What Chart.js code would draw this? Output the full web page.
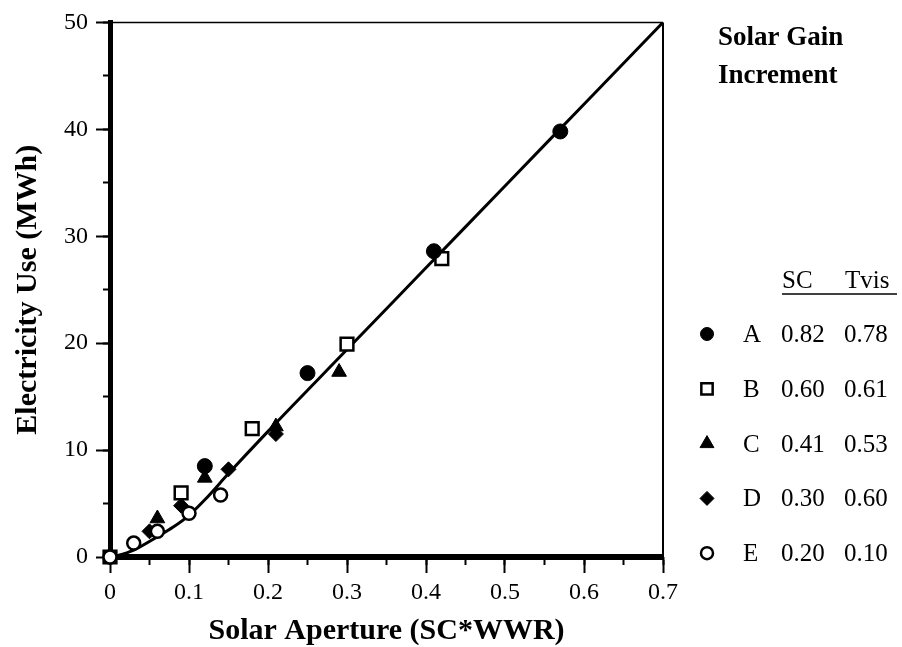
<!DOCTYPE html>
<html>
<head>
<meta charset="utf-8">
<script src="https://cdn.jsdelivr.net/npm/chart.js"></script>
<style>
  body { margin: 0; background: #fff; }
  #chart { display: block; }
</style>
</head>
<body>
<canvas id="chart" width="902" height="647"></canvas>
<script>
// key table (right side)
const keyTitle = ['Solar Gain', 'Increment'];
const keyHeader = ['SC', 'Tvis'];
const seriesNames = ['A', 'B', 'C', 'D', 'E'];
const scValues = ['0.82', '0.60', '0.41', '0.30', '0.20'];
const tvisValues = ['0.78', '0.61', '0.53', '0.60', '0.10'];

// measured points, solar aperture vs electricity use (MWh)
const apertureA = [0.12, 0.25, 0.41, 0.57];
const electricityA = [8.5, 17.2, 28.6, 39.8];
const apertureB = [0, 0.09, 0.18, 0.30, 0.42];
const electricityB = [0, 6.0, 12.0, 19.9, 27.9];
const apertureC = [0.06, 0.12, 0.21, 0.29];
const electricityC = [3.6, 7.4, 12.2, 17.3];
const apertureD = [0.05, 0.09, 0.15, 0.21];
const electricityD = [2.4, 4.8, 8.2, 11.5];
const apertureE = [0, 0.03, 0.06, 0.10, 0.14];
const electricityE = [0, 1.3, 2.4, 4.1, 5.8];

// fitted curve
const fitAperture = [0, 0.01, 0.03, 0.06, 0.08, 0.1, 0.12, 0.15, 0.2, 0.3, 0.4, 0.5, 0.6, 0.7];
const fitElectricity = [0, 0.15, 0.65, 1.9, 2.8, 3.9, 5.35, 7.8, 11.75, 19.4, 27.05, 34.7, 42.35, 50];

const xTickLabels = ['0', '0.1', '0.2', '0.3', '0.4', '0.5', '0.6', '0.7'];
const yTickLabels = ['0', '10', '20', '30', '40', '50'];

const SERIF = '"Liberation Serif", "Times New Roman", serif';

function pts(xs, ys) {
  return xs.map((x, i) => ({ x: x, y: ys[i] }));
}

const frame = {
  id: 'frame',
  beforeDatasetsDraw(chart) {
    const a = chart.chartArea;
    const ctx = chart.ctx;
    ctx.save();
    ctx.strokeStyle = '#000';
    ctx.lineWidth = 1.5;
    ctx.beginPath();
    ctx.moveTo(a.left, a.top);
    ctx.lineTo(a.right, a.top);
    ctx.stroke();
    ctx.lineWidth = 2;
    ctx.beginPath();
    ctx.moveTo(a.right, a.top);
    ctx.lineTo(a.right, a.bottom);
    ctx.stroke();
    ctx.restore();
  }
};

const keyTable = {
  id: 'keyTable',
  afterDraw(chart) {
    const ctx = chart.ctx;
    ctx.save();
    ctx.fillStyle = '#000';
    ctx.textAlign = 'left';
    ctx.textBaseline = 'alphabetic';
    ctx.font = 'bold 27px ' + SERIF;
    keyTitle.forEach((t, i) => ctx.fillText(t, 718, 45 + i * 38));

    ctx.font = '25px ' + SERIF;
    ctx.fillText(keyHeader[0], 782, 288);
    ctx.fillText(keyHeader[1], 845, 288);
    ctx.strokeStyle = '#000';
    ctx.lineWidth = 1.5;
    ctx.beginPath();
    ctx.moveTo(782, 294);
    ctx.lineTo(897, 294);
    ctx.stroke();

    const sizes = [6.5, 8, 8, 7, 6];
    seriesNames.forEach((name, i) => {
      const ds = chart.data.datasets[i];
      const base = 342 + i * 54.8;
      ctx.fillStyle = ds.backgroundColor;
      ctx.strokeStyle = ds.borderColor;
      ctx.lineWidth = ds.borderWidth;
      Chart.helpers.drawPoint(ctx, {
        pointStyle: ds.pointStyle, rotation: 0, radius: sizes[i], borderWidth: ds.borderWidth
      }, 707, base - 8);
      ctx.fillStyle = '#000';
      ctx.fillText(name, 743, base);
      ctx.fillText(scValues[i], 781, base);
      ctx.fillText(tvisValues[i], 844, base);
    });
    ctx.restore();
  }
};

const ctx = document.getElementById('chart');

new Chart(ctx, {
  type: 'scatter',
  data: {
    datasets: [
      { label: seriesNames[0], data: pts(apertureA, electricityA), pointStyle: 'circle', pointRadius: 7.5,
        backgroundColor: '#000', borderColor: '#000', borderWidth: 1, order: 0, clip: false },
      { label: seriesNames[1], data: pts(apertureB, electricityB), pointStyle: 'rect', pointRadius: 9,
        backgroundColor: '#fff', borderColor: '#000', borderWidth: 2.5, order: 0, clip: false },
      { label: seriesNames[2], data: pts(apertureC, electricityC), pointStyle: 'triangle', pointRadius: 8.5,
        backgroundColor: '#000', borderColor: '#000', borderWidth: 1, order: 0, clip: false },
      { label: seriesNames[3], data: pts(apertureD, electricityD), pointStyle: 'rectRot', pointRadius: 7.5,
        backgroundColor: '#000', borderColor: '#000', borderWidth: 1, order: 0, clip: false },
      { label: seriesNames[4], data: pts(apertureE, electricityE), pointStyle: 'circle', pointRadius: 6.5,
        backgroundColor: '#fff', borderColor: '#000', borderWidth: 2.5, order: -1, clip: false },
      { label: 'fit', data: pts(fitAperture, fitElectricity), showLine: true, pointRadius: 0,
        borderColor: '#000', borderWidth: 3, cubicInterpolationMode: 'monotone', fill: false, order: 10 }
    ]
  },
  options: {
    responsive: false,
    devicePixelRatio: 1,
    animation: false,
    layout: { padding: { left: 0, top: 19, right: 239, bottom: 0 } },
    plugins: { legend: { display: false }, tooltip: { enabled: false } },
    scales: {
      x: {
        type: 'linear', min: 0, max: 0.7,
        afterFit: (s) => { s.height = 90; },
        ticks: {
          stepSize: 0.1, color: '#000', padding: 5,
          font: { family: SERIF, size: 24 },
          callback: (v, i) => xTickLabels[i]
        },
        grid: { drawOnChartArea: false, drawTicks: true, tickLength: 16, tickWidth: 2, tickColor: '#000' },
        border: { display: true, color: '#000', width: 6 },
        title: {
          display: true, text: 'Solar Aperture (SC*WWR)', color: '#000',
          font: { family: SERIF, size: 30, weight: 'bold', lineHeight: 1 },
          padding: { top: 0, bottom: 1 }
        }
      },
      y: {
        type: 'linear', min: 0, max: 50,
        afterFit: (s) => { s.width = 110; },
        ticks: {
          stepSize: 10, color: '#000', padding: 8,
          font: { family: SERIF, size: 24 },
          callback: (v, i) => yTickLabels[i]
        },
        grid: { drawOnChartArea: false, drawTicks: true, tickLength: 14, tickWidth: 2, tickColor: '#000' },
        border: { display: true, color: '#000', width: 5 },
        title: {
          display: true, text: 'Electricity Use (MWh)', color: '#000',
          font: { family: SERIF, size: 30, weight: 'bold', lineHeight: 1 },
          padding: { top: 13, bottom: 0 }
        }
      },
      // minor tick marks
      xMinor: {
        axis: 'x', type: 'linear', min: 0, max: 0.7, position: { y: 0 },
        ticks: { stepSize: 0.05, display: false },
        grid: { drawOnChartArea: false, drawTicks: true, tickLength: 8, tickWidth: 2, tickColor: '#000' },
        border: { display: false }
      },
      yMinor: {
        axis: 'y', type: 'linear', min: 0, max: 50, position: { x: 0 },
        ticks: { stepSize: 5, display: false },
        grid: { drawOnChartArea: false, drawTicks: true, tickLength: 7, tickWidth: 2, tickColor: '#000' },
        border: { display: false }
      }
    }
  },
  plugins: [frame, keyTable]
});
</script>
</body>
</html>
